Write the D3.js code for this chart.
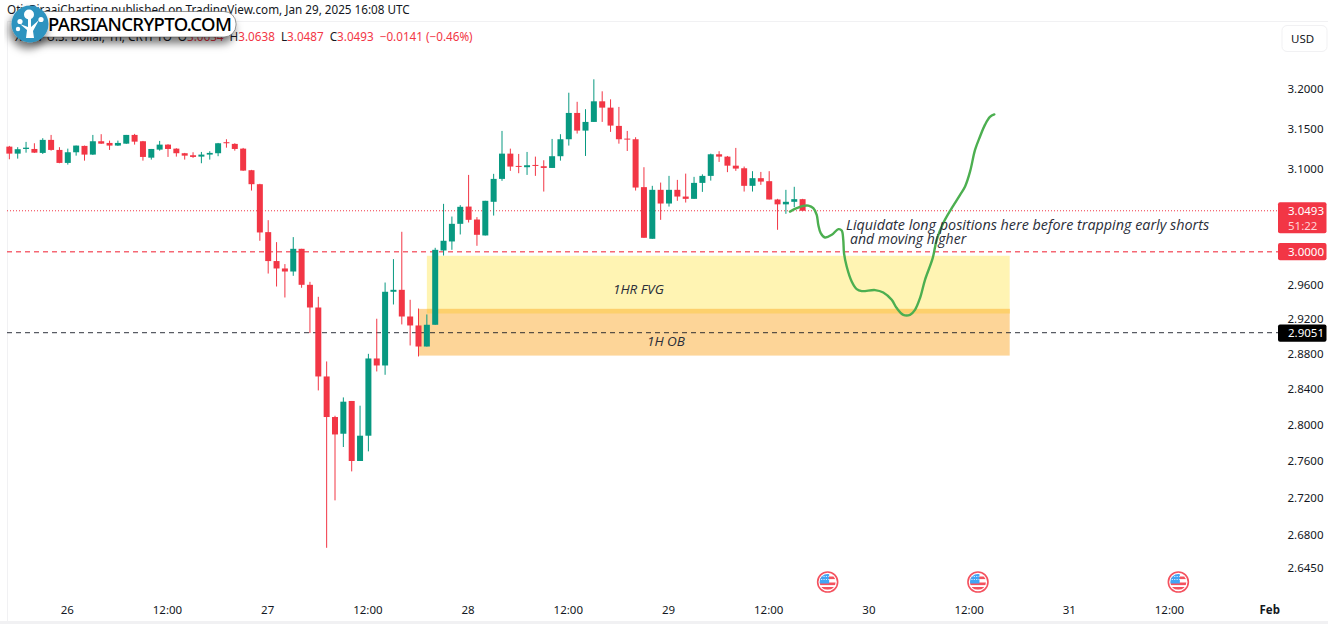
<!DOCTYPE html>
<html>
<head>
<meta charset="utf-8">
<script src="https://cdn.jsdelivr.net/npm/d3@7"></script>
<style>
  html, body { margin: 0; padding: 0; background: #fff; }
  svg { display: block; }
  text { font-family: "Noto Sans", sans-serif; }
  .axis text { font-size: 11.5px; fill: #131722; }
  .note { font-family: "Open Sans", sans-serif; font-style: italic; fill: #2a2e39; }
</style>
</head>
<body>
<svg id="chart" width="1328" height="624"></svg>
<script>
// hourly XRP candles, first one is Jan 25 17:00 UTC
const firstCandle = Date.UTC(2025, 0, 25, 17);
const opens = [
  3.1281,3.1194,3.1252,3.1252,3.1203,3.1365,3.1240,3.1079,3.1211,3.1290,3.1182,3.1348,
  3.1327,3.1294,3.1318,3.1427,3.1348,3.1144,3.1244,3.1306,3.1256,3.1199,3.1174,3.1157,
  3.1182,3.1199,3.1336,3.1315,3.1256,3.0989,3.0817,3.0235,2.9889,2.9801,2.9765,3.0035,
  2.9608,2.9342,2.8548,2.8091,2.7905,2.8271,2.7604,2.7883,2.8753,2.8673,2.9526,2.9549,
  2.9237,2.9133,2.8890,2.9141,3.0015,3.0123,3.0335,3.0544,3.0387,3.0195,3.0602,3.0882,
  3.1194,3.1042,3.1026,3.1054,3.1038,3.1017,3.1162,3.1373,3.1703,3.1481,3.1590,3.1850,
  3.1770,3.1540,3.1381,3.1373,3.0781,3.0155,3.0748,3.0581,3.0748,3.0666,3.0638,3.0833,
  3.0919,3.1186,3.1157,3.1045,3.1013,3.0797,3.0891,3.0854,3.0630,3.0571,3.0602,3.0634
];
const highs = [
  3.1290,3.1274,3.1340,3.1323,3.1386,3.1427,3.1274,3.1256,3.1294,3.1294,3.1427,3.1436,
  3.1356,3.1356,3.1427,3.1440,3.1352,3.1252,3.1352,3.1311,3.1261,3.1203,3.1211,3.1215,
  3.1224,3.1327,3.1373,3.1323,3.1265,3.0993,3.0822,3.0379,3.0115,2.9853,3.0175,3.0035,
  2.9643,2.9467,2.8719,2.8105,2.8311,2.8271,2.8218,2.8806,2.9211,2.9635,2.9912,3.0239,
  2.9432,2.9330,2.9261,3.0047,3.0577,3.0423,3.0561,3.0931,3.0416,3.0614,3.0944,3.1477,
  3.1256,3.1190,3.1215,3.1157,3.1112,3.1377,3.1436,3.1959,3.1844,3.1750,3.2130,3.1977,
  3.1875,3.1779,3.1477,3.1398,3.1026,3.0797,3.0837,3.0919,3.0870,3.0947,3.0907,3.0938,
  3.1194,3.1224,3.1165,3.1265,3.1034,3.0977,3.0968,3.0977,3.0638,3.0748,3.0785,3.0638
];
const lows = [
  3.1124,3.1132,3.1206,3.1203,3.1190,3.1231,3.1075,3.1058,3.1169,3.1107,3.1178,3.1315,
  3.1240,3.1290,3.1315,3.1306,3.1107,3.1120,3.1231,3.1153,3.1157,3.1120,3.1141,3.1075,
  3.1120,3.1162,3.1268,3.1231,3.0981,3.0739,3.0131,2.9741,2.9588,2.9459,2.9714,2.9573,
  2.9045,2.8390,2.6667,2.7175,2.7758,2.7490,2.7604,2.7710,2.8605,2.8567,2.9377,2.9145,
  2.8902,2.8776,2.8890,2.9141,2.9955,3.0023,3.0207,3.0351,3.0071,3.0195,3.0435,3.0858,
  3.0981,3.0952,3.0931,3.0919,3.0727,3.1017,3.1107,3.1294,3.1444,3.1165,3.1590,3.1590,
  3.1465,3.1318,3.1227,3.0739,3.0167,3.0155,3.0383,3.0544,3.0614,3.0593,3.0638,3.0723,
  3.0861,3.1091,3.0965,3.0981,3.0727,3.0727,3.0809,3.0630,3.0263,3.0456,3.0537,3.0487
];
const closes = [
  3.1194,3.1249,3.1268,3.1206,3.1365,3.1240,3.1079,3.1211,3.1294,3.1182,3.1348,3.1318,
  3.1294,3.1327,3.1427,3.1343,3.1153,3.1252,3.1306,3.1252,3.1199,3.1169,3.1153,3.1182,
  3.1203,3.1323,3.1323,3.1252,3.0984,3.0817,3.0231,2.9889,2.9801,2.9765,3.0035,2.9608,
  2.9342,2.8548,2.8091,2.7897,2.8263,2.7604,2.7883,2.8753,2.8673,2.9526,2.9549,2.9237,
  2.9133,2.8890,2.9141,3.0023,3.0131,3.0335,3.0541,3.0383,3.0203,3.0614,3.0882,3.1194,
  3.1034,3.1030,3.1050,3.1045,3.1017,3.1162,3.1373,3.1703,3.1481,3.1590,3.1850,3.1770,
  3.1544,3.1373,3.1373,3.0776,3.0167,3.0748,3.0581,3.0748,3.0666,3.0638,3.0833,3.0919,
  3.1186,3.1157,3.1045,3.1009,3.0797,3.0891,3.0849,3.0630,3.0571,3.0602,3.0634,3.0493
];

// the hand drawn forecast, hours since Jan 26 00:00 and price
const forecastHours = [86.49,87.29,88.08,88.68,89.28,89.69,89.88,90.17,90.68,91.49,92.28,92.68,92.87,
  92.96,93.28,93.88,94.48,95.08,96.67,97.66,98.67,99.27,100.06,100.86,101.46,102.06,102.66,103.58,
  104.06,104.85,105.86,106.86,107.46,108.06,108.65,109.25,109.85,110.44,110.96];
const forecastPrices = [3.0483,3.0524,3.0553,3.0556,3.0524,3.0443,3.0323,3.0223,3.0171,3.0203,3.0271,3.0255,3.0143,
  2.9984,2.9824,2.9647,2.9557,2.9534,2.9546,2.9518,2.9432,2.9335,2.9257,2.9257,2.9315,2.9452,2.9667,2.9924,
  3.0143,3.0344,3.0524,3.0687,3.0789,3.0974,3.1240,3.1408,3.1556,3.1654,3.1684];

const priceTicks = [3.2, 3.15, 3.1, 2.96, 2.92, 2.88, 2.84, 2.8, 2.76, 2.72, 2.68, 2.645];
const timeTickHours = [0, 12, 24, 36, 48, 60, 72, 84, 96, 108, 120, 132, 144];
const eventHours = [91, 109, 133];
const fvgZone = { from: 43, to: 112.8, top: 2.9952, bottom: 2.9272 };
const obZone = { from: 42, to: 112.8, top: 2.9326, bottom: 2.8786 };
const lastPrice = 3.0493, roundPrice = 3.0, supportPrice = 2.9051;

const red = "#f23645", green = "#089981";
const plotLeft = 7, plotRight = 1278;

const at = h => new Date(Date.UTC(2025, 0, 26) + h * 3600000);
const x = d3.scaleUtc().domain([at(0), at(144)]).range([67.8, 1270.2]);
const y = d3.scaleLog().domain([3.2, 2.68]).range([89.5, 535.3]);

const svg = d3.select("#chart");

// frame
svg.append("rect").attr("width", 1328).attr("height", 624).attr("fill", "#fff");
const frame = svg.append("g").attr("stroke", "#f1f1f3").attr("fill", "none");
frame.append("line").attr("x1", plotLeft).attr("x2", 1328).attr("y1", 21.5).attr("y2", 21.5);
frame.append("line").attr("x1", plotLeft + 0.5).attr("x2", plotLeft + 0.5).attr("y1", 21).attr("y2", 621);
frame.append("line").attr("x1", 0).attr("x2", 1328).attr("y1", 622.5).attr("y2", 622.5).attr("stroke-width", 3);

// zones
const zones = svg.append("g");
[[fvgZone, "#fff4b3"], [obZone, "#fdd598"]].forEach(([z, c]) => {
  zones.append("rect")
    .attr("x", x(at(z.from))).attr("width", x(at(z.to)) - x(at(z.from)))
    .attr("y", y(z.top)).attr("height", y(z.bottom) - y(z.top))
    .attr("fill", c);
});
zones.append("rect")
  .attr("x", x(at(fvgZone.from))).attr("width", x(at(fvgZone.to)) - x(at(fvgZone.from)))
  .attr("y", y(obZone.top)).attr("height", y(fvgZone.bottom) - y(obZone.top))
  .attr("fill", "#fdd06c");

// price lines
const priceLine = (p, color, dash, w) => svg.append("line")
  .attr("x1", plotLeft).attr("x2", plotRight).attr("y1", y(p)).attr("y2", y(p))
  .attr("stroke", color).attr("stroke-dasharray", dash).attr("stroke-width", w);
priceLine(lastPrice, red, "1 2", 1);
priceLine(roundPrice, red, "5 4", 1.3).attr("stroke-opacity", 0.75);
priceLine(supportPrice, "#131722", "5 4", 1.3).attr("stroke-opacity", 0.7);

// candles
const candles = opens.map((o, i) => ({
  t: new Date(firstCandle + i * 3600000), o, h: highs[i], l: lows[i], c: closes[i]
}));
const bar = svg.append("g").selectAll("g").data(candles).join("g")
  .attr("fill", d => d.c >= d.o ? green : red)
  .attr("stroke", d => d.c >= d.o ? green : red);
bar.append("line")
  .attr("x1", d => x(d.t)).attr("x2", d => x(d.t))
  .attr("y1", d => y(d.h)).attr("y2", d => y(d.l));
bar.append("rect")
  .attr("x", d => x(d.t) - 3).attr("width", 6)
  .attr("y", d => y(Math.max(d.o, d.c)))
  .attr("height", d => Math.max(1, Math.abs(y(d.o) - y(d.c))))
  .attr("stroke", "none");

// forecast path
const forecast = forecastHours.map((h, i) => [h, forecastPrices[i]]);
svg.append("path")
  .attr("d", d3.line().x(d => x(at(d[0]))).y(d => y(d[1])).curve(d3.curveCatmullRom)(forecast))
  .attr("fill", "none").attr("stroke", "#4caf50").attr("stroke-width", 2.4)
  .attr("stroke-linecap", "round");

// notes
const notes = [
  ["Liquidate long positions here before trapping early shorts", 846, 230, 14.35],
  ["and moving higher", 850, 244, 14],
  ["1HR FVG", 613, 294, 13.5],
  ["1H OB", 647, 346, 13.5]
];
svg.append("g").selectAll("text").data(notes).join("text")
  .attr("class", "note")
  .attr("x", d => d[1]).attr("y", d => d[2]).attr("font-size", d => d[3]).text(d => d[0]);

// axes
const xAxis = svg.append("g").attr("class", "axis")
  .attr("transform", "translate(-1,604)")
  .call(d3.axisBottom(x).tickValues(timeTickHours.map(at)).tickSize(0).tickPadding(2)
    .tickFormat(d => d.getUTCHours() ? "12:00" : d.getUTCMonth() === 1 ? "Feb" : String(d.getUTCDate())));
xAxis.select(".domain").remove();
xAxis.selectAll("text").filter(d => d.getUTCMonth() === 1).attr("font-weight", 700);

const yAxis = svg.append("g").attr("class", "axis")
  .attr("transform", "translate(1278,-0.5)")
  .call(d3.axisRight(y).tickValues(priceTicks).tickSize(0).tickPadding(9.5).tickFormat(d3.format(".4f")));
yAxis.select(".domain").remove();

// price labels
const priceTag = (p, fill, top, h) => {
  svg.append("rect").attr("x", 1278).attr("y", y(p) - top).attr("width", 48.5).attr("height", h)
    .attr("rx", 2).attr("fill", fill);
  svg.append("text").attr("x", 1288).attr("y", y(p) + 4).attr("fill", "#fff").attr("font-size", 11.5)
    .text(d3.format(".4f")(p));
};
priceTag(lastPrice, red, 8.5, 31);
svg.append("text").attr("x", 1288).attr("y", y(lastPrice) + 19).attr("fill", "#ffd3d7").attr("font-size", 11.5).text("51:22");
priceTag(roundPrice, red, 8.7, 17.3);
priceTag(supportPrice, "#000", 8, 17.3);

// USD button
svg.append("rect").attr("x", 1282).attr("y", 25.5).attr("width", 45).attr("height", 26).attr("rx", 5)
  .attr("fill", "#fff").attr("stroke", "#f1f1f3");
svg.append("text").attr("x", 1291).attr("y", 43).attr("fill", "#131722").attr("font-size", 11.5).text("USD");

// event flags
const defs = svg.append("defs");
defs.append("clipPath").attr("id", "flagClip").append("circle").attr("r", 8);
const flag = svg.append("g").selectAll("g").data(eventHours).join("g")
  .attr("transform", d => `translate(${x(at(d))},582)`);
flag.append("circle").attr("r", 10).attr("fill", "#fff").attr("stroke", "#f4525f").attr("stroke-width", 1.6);
const inner = flag.append("g").attr("clip-path", "url(#flagClip)");
[-5.5, 0.5, 5].forEach(s => {
  inner.append("rect").attr("x", -9).attr("y", s).attr("width", 18).attr("height", 2.6).attr("fill", "#f4525f");
});
inner.append("rect").attr("x", -9).attr("y", -8).attr("width", 10.5).attr("height", 9.5).attr("fill", "#42a5f5");
[-5.5, -2.5].forEach(s => {
  inner.append("line").attr("x1", -9).attr("x2", 1.5).attr("y1", s).attr("y2", s)
    .attr("stroke", "#fff").attr("stroke-width", 0.8).attr("stroke-dasharray", "1.2 1.2");
});

// header
svg.append("text").attr("x", 7).attr("y", 14).attr("fill", "#131722").attr("font-size", 11.7)
  .text("OtisBiraaiCharting published on TradingView.com, Jan 29, 2025 16:08 UTC");
const legend = svg.append("text").attr("x", 15).attr("y", 41).attr("font-size", 11.7).attr("fill", "#131722")
  .attr("style", "white-space:pre");
[["XRP / U.S. Dollar, 1h, CRYPTO  O", 0], ["3.0634", 1], ["  H", 0], ["3.0638", 1], ["  L", 0], ["3.0487", 1],
 ["  C", 0], ["3.0493", 1], ["  \u22120.0141 (\u22120.46%)", 1]].forEach(d => {
  legend.append("tspan").attr("fill", d[1] ? red : "#131722").text(d[0]);
});

// logo over the header
const shadow = defs.append("filter").attr("id", "logoShadow")
  .attr("x", "-20%").attr("y", "-60%").attr("width", "140%").attr("height", "260%");
shadow.append("feDropShadow").attr("dx", -2).attr("dy", 6).attr("stdDeviation", 4)
  .attr("flood-color", "#000").attr("flood-opacity", 0.55);
const logo = svg.append("g");
logo.append("rect").attr("x", 30).attr("y", 11.5).attr("width", 206).attr("height", 25.5).attr("rx", 12)
  .attr("fill", "#fff").attr("stroke", "#333").attr("stroke-width", 0.5).attr("filter", "url(#logoShadow)");
logo.append("text").attr("x", 48).attr("y", 31).attr("fill", "#000").attr("font-size", 18.5)
  .attr("font-family", "Liberation Sans, Arial, sans-serif").attr("font-weight", 500)
  .attr("textLength", 184).text("PARSIANCRYPTO.COM");
logo.append("circle").attr("cx", 30).attr("cy", 24).attr("r", 18.5).attr("fill", "#2f93bf").attr("filter", "url(#logoShadow)");
logo.append("path").attr("d", "M26 38 L27 30 L20 24 L28 27 L28 18 L31 18 L31 27 L39 20 L33 31 L34 38 Z").attr("fill", "#fff");
[[29, 14.5, 5], [20, 21.5, 2.6], [41, 19.5, 2.6], [18, 29, 2.2]].forEach(c => {
  logo.append("circle").attr("cx", c[0]).attr("cy", c[1]).attr("r", c[2]).attr("fill", "#fff");
});
</script>
</body>
</html>
